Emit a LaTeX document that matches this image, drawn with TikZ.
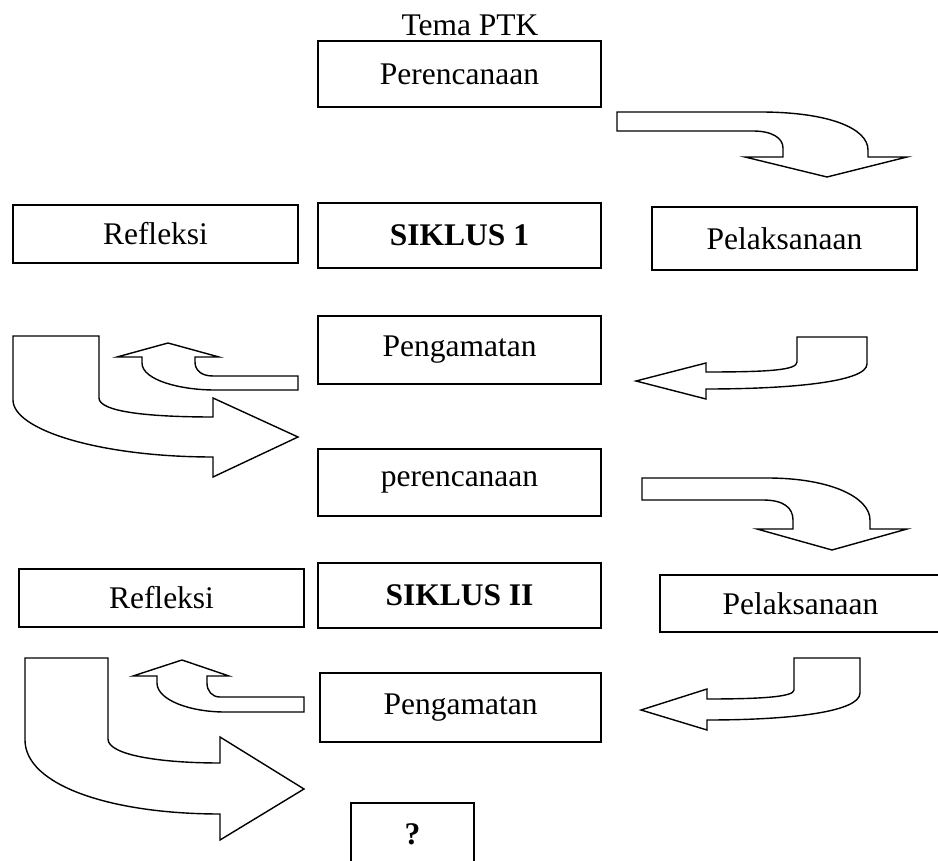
\documentclass[tikz,border=0pt]{standalone}
\usepackage{fontspec}
\setmainfont{Liberation Serif}
\tikzset{
	kotak/.style={draw, line width=1.6pt, inner sep=0pt, minimum width=283pt,
		font=\fontsize{31.5}{36}\selectfont},
	tebal/.style={font=\fontsize{31.5}{36}\selectfont\bfseries},
	panah/.style={line width=1.4pt, line join=miter, fill=white}
}

\begin{document}
\begin{tikzpicture}[x=1pt, y=-1pt]
	\useasboundingbox (0,0) rectangle (938,861);
	\node[anchor=base, font=\fontsize{31.5}{36}\selectfont] (tema) at (470,36) {Tema PTK};
	% siklus 1
	\node[kotak, minimum height=66pt] (rencana1) at (459.5,74) {Perencanaan};
	\node[kotak, tebal, minimum height=65pt] (siklus1) at (459.5,235.5) {SIKLUS 1};
	\node[kotak, minimum width=285pt, minimum height=58pt] (refleksi1) at (155.5,234) {Refleksi};
	\node[kotak, minimum width=265pt, minimum height=63pt] (laksana1) at (784.5,238.5) {Pelaksanaan};
	\node[kotak, minimum height=68pt] (amat1) at (459.5,350) {Pengamatan};
	% siklus 2
	\node[kotak, minimum height=67pt] (rencana2) at (459.5,482.5) {perencanaan};
	\node[kotak, minimum width=285pt, minimum height=58pt] (refleksi2) at (161.5,598) {Refleksi};
	\node[kotak, tebal, minimum height=65pt] (siklus2) at (459.5,595.5) {SIKLUS II};
	\node[kotak, minimum width=281pt, minimum height=57pt] (laksana2) at (800.5,603.5) {Pelaksanaan};
	\node[kotak, minimum width=281pt, minimum height=69pt] (amat2) at (460.5,707.5) {Pengamatan};
	\node[kotak, tebal, minimum width=123pt, minimum height=62pt] (tanya) at (412.5,834) {?};

	% panah siklus 1
	\draw[panah] (617,112) -- (760,112) .. controls (828,112) and (868,128) .. (868,150)
		-- (868,157) -- (907,157) -- (827,177) -- (745,157) -- (783,157) -- (783,148)
		.. controls (783,138) and (772,131) .. (753,131) -- (617,131) -- cycle;
	\draw[panah] (797,337) -- (867,337) -- (867,364) .. controls (867,382) and (790,389) .. (706,389)
		-- (706,399) -- (636,381) -- (706,363) -- (706,372)
		.. controls (770,372) and (797,370) .. (797,362) -- cycle;
	\draw[panah] (298,376) -- (213,376) .. controls (201,376) and (195,370) .. (195,362)
		-- (195,357) -- (219,357) -- (168,343) -- (117,357) -- (142,357) -- (142,363)
		.. controls (142,380) and (180,390) .. (215,390) -- (298,390) -- cycle;
	\draw[panah] (13,336) -- (99,336) -- (99,398) .. controls (99,412) and (150,417) .. (213,417)
		-- (213,398) -- (298,437) -- (213,477) -- (213,457)
		.. controls (100,457) and (13,430) .. (13,400) -- cycle;

	% panah siklus 2
	\draw[panah] (642,478) -- (767,478) .. controls (832,478) and (870,498) .. (870,520)
		-- (870,529) -- (907,529) -- (832,550) -- (757,529) -- (793,529) -- (793,520)
		.. controls (793,508) and (784,500) .. (763,500) -- (642,500) -- cycle;
	\draw[panah] (794,658) -- (860,658) -- (860,693) .. controls (860,712) and (790,720) .. (707,720)
		-- (707,730) -- (641,710) -- (707,689) -- (707,699)
		.. controls (760,699) and (794,697) .. (794,690) -- cycle;
	\draw[panah] (304,697) -- (220,697) .. controls (212,697) and (207,691) .. (207,683)
		-- (207,676) -- (229,676) -- (182,660) -- (133,676) -- (157,676) -- (157,683)
		.. controls (157,700) and (190,712) .. (225,712) -- (304,712) -- cycle;
	\draw[panah] (25,658) -- (108,658) -- (108,739) .. controls (108,755) and (160,763) .. (220,763)
		-- (220,737) -- (304,789) -- (220,840) -- (220,814)
		.. controls (110,814) and (25,785) .. (25,740) -- cycle;
\end{tikzpicture}
\end{document}
